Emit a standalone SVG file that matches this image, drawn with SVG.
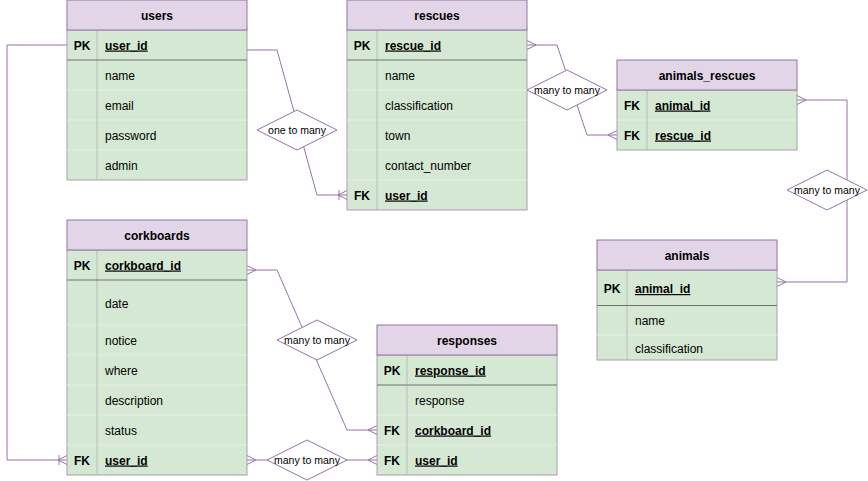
<svg xmlns="http://www.w3.org/2000/svg" width="868" height="481" viewBox="0 0 868 481">
<style>
text{font-family:"Liberation Sans",Arial,sans-serif;font-size:12px;fill:#000}
.title{font-weight:bold;text-anchor:middle}
.key{font-weight:bold;text-anchor:middle}
.kname{font-weight:bold;text-decoration:underline}
.rel{font-size:10.5px;text-anchor:middle}
.head{fill:#e1d5e7;stroke:#9673a6;stroke-width:1}
.body{fill:#d5e8d4;stroke:#a69fab;stroke-width:1}
.div{stroke:#b5bdb4;stroke-width:1}
.pksep{stroke:#707070;stroke-width:1}
.rowsep{stroke:#e6efe5;stroke-width:1}
.dia{fill:#ffffff;stroke:#9673a6;stroke-width:1}
.edge{fill:none;stroke:#9673a6;stroke-width:1}
</style>
<defs>
<marker id="many" viewBox="-12 -7 14 14" markerWidth="14" markerHeight="14" refX="0" refY="0" orient="auto-start-reverse" markerUnits="userSpaceOnUse">
<path d="M-9,0 L0,-4.5 M-9,0 L0,4.5" fill="none" stroke="#9673a6" stroke-width="1"/>
</marker>
<marker id="onemany" viewBox="-12 -7 14 14" markerWidth="14" markerHeight="14" refX="0" refY="0" orient="auto-start-reverse" markerUnits="userSpaceOnUse">
<path d="M-9,0 L0,-4.5 M-9,0 L0,4.5 M-8,-5 L-8,5" fill="none" stroke="#9673a6" stroke-width="1"/>
</marker>
</defs>

<g id="connectors">
<path class="edge" d="M247,50 L277,50 L317,195 L347,195" marker-end="url(#onemany)"/>
<path class="edge" d="M527,45 L557,45 L587,135 L617,135" marker-start="url(#many)" marker-end="url(#many)"/>
<path class="edge" d="M797,100 L847,100 L847,282 L777,282" marker-start="url(#many)" marker-end="url(#many)"/>
<path class="edge" d="M247,270 L277,270 L347,430 L377,430" marker-start="url(#many)" marker-end="url(#many)"/>
<path class="edge" d="M247,460 L377,460" marker-start="url(#many)" marker-end="url(#many)"/>
<path class="edge" d="M67,45 L7,45 L7,460 L67,460" marker-end="url(#onemany)"/>
</g>

<g id="users">
<rect class="body" x="67" y="30" width="180" height="150"/>
<line class="rowsep" x1="67" y1="90" x2="247" y2="90"/>
<line class="rowsep" x1="67" y1="120" x2="247" y2="120"/>
<line class="rowsep" x1="67" y1="150" x2="247" y2="150"/>
<line class="div" x1="97" y1="30" x2="97" y2="180"/>
<line class="pksep" x1="67" y1="60" x2="247" y2="60"/>
<rect class="head" x="67" y="0" width="180" height="30"/>
<text class="title" x="157" y="19.5">users</text>
<text class="key" x="82" y="49.5">PK</text>
<text class="kname" x="105" y="49.5">user_id</text>
<text x="105" y="79.5">name</text>
<text x="105" y="109.5">email</text>
<text x="105" y="139.5">password</text>
<text x="105" y="169.5">admin</text>
</g>

<g id="rescues">
<rect class="body" x="347" y="30" width="180" height="180"/>
<line class="rowsep" x1="347" y1="90" x2="527" y2="90"/>
<line class="rowsep" x1="347" y1="120" x2="527" y2="120"/>
<line class="rowsep" x1="347" y1="150" x2="527" y2="150"/>
<line class="rowsep" x1="347" y1="180" x2="527" y2="180"/>
<line class="div" x1="377" y1="30" x2="377" y2="210"/>
<line class="pksep" x1="347" y1="60" x2="527" y2="60"/>
<rect class="head" x="347" y="0" width="180" height="30"/>
<text class="title" x="437" y="19.5">rescues</text>
<text class="key" x="362" y="49.5">PK</text>
<text class="kname" x="385" y="49.5">rescue_id</text>
<text x="385" y="79.5">name</text>
<text x="385" y="109.5">classification</text>
<text x="385" y="139.5">town</text>
<text x="385" y="169.5">contact_number</text>
<text class="key" x="362" y="199.5">FK</text>
<text class="kname" x="385" y="199.5">user_id</text>
</g>

<g id="animals_rescues">
<rect class="body" x="617" y="90" width="180" height="60"/>
<line class="rowsep" x1="617" y1="120" x2="797" y2="120"/>
<line class="div" x1="647" y1="90" x2="647" y2="150"/>
<rect class="head" x="617" y="60" width="180" height="30"/>
<text class="title" x="707" y="79.5">animals_rescues</text>
<text class="key" x="632" y="109.5">FK</text>
<text class="kname" x="655" y="109.5">animal_id</text>
<text class="key" x="632" y="139.5">FK</text>
<text class="kname" x="655" y="139.5">rescue_id</text>
</g>

<g id="animals">
<rect class="body" x="597" y="270" width="180" height="90"/>
<line class="rowsep" x1="597" y1="335" x2="777" y2="335"/>
<line class="div" x1="627" y1="270" x2="627" y2="360"/>
<line class="pksep" x1="597" y1="305.5" x2="777" y2="305.5"/>
<rect class="head" x="597" y="240" width="180" height="30"/>
<text class="title" x="687" y="259.5">animals</text>
<text class="key" x="612" y="293">PK</text>
<text class="kname" x="635" y="293">animal_id</text>
<text x="635" y="325">name</text>
<text x="635" y="353">classification</text>
</g>

<g id="corkboards">
<rect class="body" x="67" y="250" width="180" height="225"/>
<line class="rowsep" x1="67" y1="325" x2="247" y2="325"/>
<line class="rowsep" x1="67" y1="355" x2="247" y2="355"/>
<line class="rowsep" x1="67" y1="385" x2="247" y2="385"/>
<line class="rowsep" x1="67" y1="415" x2="247" y2="415"/>
<line class="rowsep" x1="67" y1="445" x2="247" y2="445"/>
<line class="div" x1="97" y1="250" x2="97" y2="475"/>
<line class="pksep" x1="67" y1="280" x2="247" y2="280"/>
<rect class="head" x="67" y="220" width="180" height="30"/>
<text class="title" x="157" y="239.5">corkboards</text>
<text class="key" x="82" y="269.5">PK</text>
<text class="kname" x="105" y="269.5">corkboard_id</text>
<text x="105" y="307.5">date</text>
<text x="105" y="344.5">notice</text>
<text x="105" y="374.5">where</text>
<text x="105" y="404.5">description</text>
<text x="105" y="434.5">status</text>
<text class="key" x="82" y="464.5">FK</text>
<text class="kname" x="105" y="464.5">user_id</text>
</g>

<g id="responses">
<rect class="body" x="377" y="355" width="180" height="120"/>
<line class="rowsep" x1="377" y1="415" x2="557" y2="415"/>
<line class="rowsep" x1="377" y1="445" x2="557" y2="445"/>
<line class="div" x1="407" y1="355" x2="407" y2="475"/>
<line class="pksep" x1="377" y1="385" x2="557" y2="385"/>
<rect class="head" x="377" y="325" width="180" height="30"/>
<text class="title" x="467" y="344.5">responses</text>
<text class="key" x="392" y="374.5">PK</text>
<text class="kname" x="415" y="374.5">response_id</text>
<text x="415" y="404.5">response</text>
<text class="key" x="392" y="434.5">FK</text>
<text class="kname" x="415" y="434.5">corkboard_id</text>
<text class="key" x="392" y="464.5">FK</text>
<text class="kname" x="415" y="464.5">user_id</text>
</g>

<g id="rel_users_rescues">
<path class="dia" d="M257,130 L297,110 L337,130 L297,150 Z"/>
<text class="rel" x="297" y="133.5">one to many</text>
</g>
<g id="rel_rescues_animals_rescues">
<path class="dia" d="M527,90 L567,70 L607,90 L567,110 Z"/>
<text class="rel" x="567" y="93.5">many to many</text>
</g>
<g id="rel_animals_rescues_animals">
<path class="dia" d="M787,190 L827,170 L867,190 L827,210 Z"/>
<text class="rel" x="827" y="193.5">many to many</text>
</g>
<g id="rel_corkboards_responses">
<path class="dia" d="M277,340 L317,320 L357,340 L317,360 Z"/>
<text class="rel" x="317" y="343.5">many to many</text>
</g>
<g id="rel_users_responses">
<path class="dia" d="M267,460 L307,440 L347,460 L307,480 Z"/>
<text class="rel" x="307" y="463.5">many to many</text>
</g>
</svg>
